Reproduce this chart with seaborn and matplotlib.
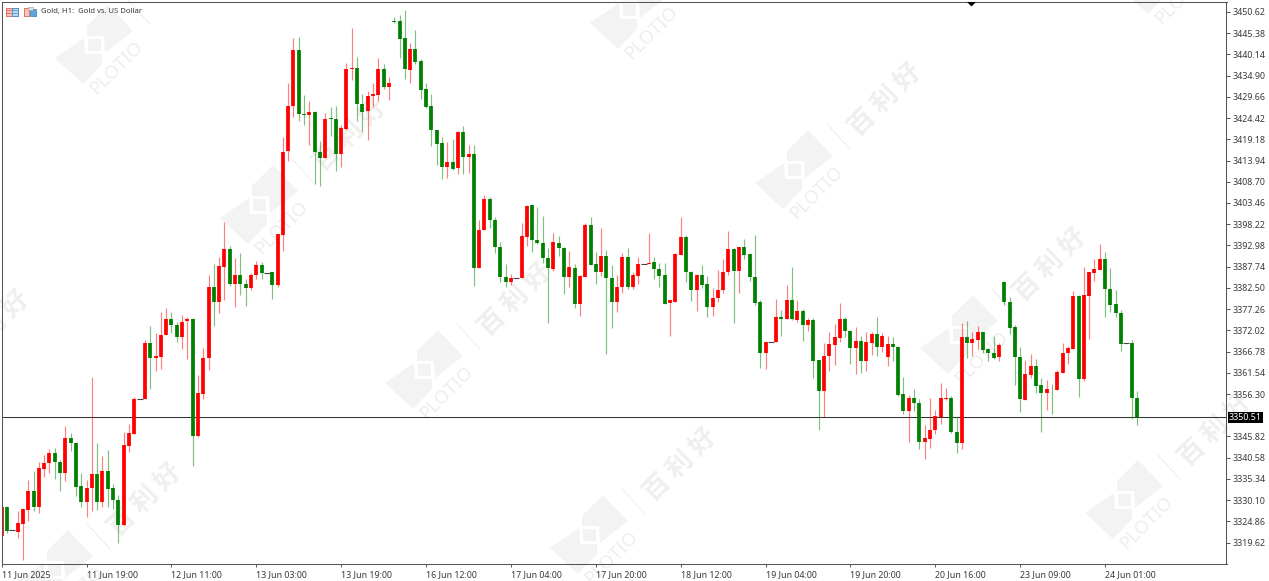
import matplotlib
matplotlib.use("Agg")
import matplotlib.pyplot as plt
import matplotlib.patches as mpatches
import numpy as np
import pandas as pd
import seaborn as sns

opens = [3321.3,3328.5,3322.6,3322.3,3324.3,3327.7,3332.3,3328.4,3337.9,3339.2,
         3341.7,3339.5,3336.9,3345.4,3344.3,3333.7,3329.6,3333.0,3336.6,3329.6,
         3337.3,3333.0,3330.1,3323.9,3343.5,3346.5,3355.0,3355.0,3368.9,3365.3,
         3365.5,3370.9,3374.7,3373.3,3370.3,3374.3,3374.8,3345.9,3356.4,3365.3,
         3382.6,3379.0,3387.7,3392.0,3383.5,3385.6,3383.5,3382.4,3385.6,3388.1,
         3386.2,3386.3,3383.2,3395.6,3416.4,3427.4,3441.2,3425.4,3425.2,3426.0,
         3416.1,3414.6,3424.4,3424.3,3415.6,3421.7,3436.6,3436.7,3427.8,3426.2,
         3429.9,3430.2,3436.6,3432.2,3448.4,3448.3,3444.1,3436.4,3441.5,3438.4,
         3431.5,3427.4,3421.5,3418.3,3412.4,3413.7,3412.0,3421.0,3414.9,3415.5,
         3387.3,3396.8,3404.4,3399.3,3392.7,3385.3,3383.9,3384.9,3384.9,3395.1,
         3403.0,3394.2,3393.5,3389.9,3387.2,3393.7,3392.4,3385.1,3387.5,3378.6,
         3385.3,3398.0,3388.4,3386.4,3390.4,3385.0,3379.1,3382.6,3390.1,3382.6,
         3385.5,3388.4,3388.3,3388.9,3387.1,3385.6,3378.7,3379.1,3390.7,3395.1,
         3386.5,3382.1,3385.8,3383.5,3377.9,3379.9,3381.9,3386.3,3392.1,3386.6,
         3392.7,3390.9,3385.3,3379.1,3366.5,3369.1,3369.1,3375.2,3374.7,3379.4,
         3374.5,3376.7,3373.3,3374.6,3364.6,3357.1,3365.7,3368.5,3370.1,3374.8,
         3371.9,3367.7,3369.5,3364.4,3368.9,3371.1,3368.0,3365.4,3368.7,3368.0,
         3356.3,3352.2,3355.3,3354.2,3344.4,3345.2,3347.3,3350.7,3355.0,3355.3,
         3346.9,3344.2,3370.3,3369.0,3369.6,3371.5,3367.3,3366.4,3365.4,3384.0,
         3379.1,3372.8,3365.5,3354.8,3361.1,3363.2,3358.4,3356.6,3357.6,3357.4,
         3361.5,3366.3,3367.5,3380.6,3360.1,3380.6,3386.1,3387.0,3389.6,3382.3,
         3378.4,3376.3,3368.8,3368.8,3355.3]
highs = [3328.6,3328.6,3322.6,3327.4,3328.1,3335.0,3337.4,3339.4,3341.3,3342.7,
         3342.9,3339.9,3348.4,3346.6,3344.5,3336.7,3335.1,3360.6,3344.3,3341.1,
         3342.5,3334.1,3331.3,3347.0,3349.0,3355.5,3355.0,3369.6,3373.2,3371.3,
         3376.6,3377.5,3376.5,3374.2,3375.8,3375.4,3375.0,3361.1,3367.7,3385.7,
         3388.3,3390.2,3398.7,3392.8,3390.0,3391.2,3384.6,3386.1,3389.2,3389.0,
         3386.2,3386.5,3395.8,3419.8,3433.2,3444.1,3444.4,3430.1,3428.6,3426.2,
         3418.8,3425.8,3427.2,3427.5,3422.7,3438.1,3446.6,3439.6,3430.4,3431.0,
         3433.2,3439.3,3437.9,3434.6,3449.5,3450.0,3451.1,3442.9,3446.2,3438.9,
         3433.0,3430.3,3421.6,3419.7,3418.4,3419.3,3421.3,3422.5,3417.7,3417.9,
         3399.3,3405.4,3404.9,3400.1,3393.9,3388.4,3385.9,3384.9,3398.4,3403.0,
         3403.1,3402.5,3400.3,3392.4,3396.1,3395.3,3392.6,3391.7,3388.4,3385.7,
         3398.6,3399.9,3391.3,3397.2,3391.9,3388.2,3385.7,3391.0,3392.3,3386.3,
         3390.2,3388.4,3396.0,3390.2,3388.6,3388.6,3379.5,3391.2,3399.9,3395.6,
         3386.7,3385.9,3388.2,3385.4,3382.4,3386.9,3389.6,3396.5,3392.3,3392.7,
         3394.5,3391.0,3395.6,3379.4,3369.5,3369.1,3379.7,3377.0,3383.2,3387.7,
         3379.4,3377.2,3375.0,3375.0,3364.6,3369.0,3371.5,3373.5,3378.7,3375.2,
         3372.1,3372.9,3370.7,3371.7,3371.7,3375.2,3371.3,3370.5,3370.3,3368.2,
         3360.4,3356.1,3357.5,3355.0,3348.6,3355.2,3352.3,3359.1,3357.9,3355.8,
         3350.5,3373.8,3374.4,3371.5,3373.2,3371.7,3367.7,3370.5,3369.0,3384.3,
         3380.3,3373.3,3368.0,3364.7,3366.1,3364.9,3360.3,3359.8,3358.7,3362.2,
         3369.0,3368.2,3381.8,3380.8,3387.6,3386.5,3389.6,3393.3,3391.3,3387.5,
         3382.0,3377.0,3368.8,3369.6,3357.1]
lows = [3321.3,3322.1,3322.6,3320.7,3315.3,3325.0,3327.4,3327.0,3335.9,3336.7,
        3335.2,3332.4,3334.9,3342.3,3331.1,3328.4,3326.0,3327.3,3327.7,3328.4,
        3328.4,3328.0,3319.4,3323.7,3342.1,3346.5,3355.0,3355.0,3357.5,3362.0,
        3362.4,3370.9,3371.4,3369.2,3367.5,3365.0,3338.5,3345.8,3355.1,3362.2,
        3373.1,3376.2,3379.5,3382.9,3377.7,3380.7,3378.0,3382.0,3384.6,3384.6,
        3386.2,3379.7,3382.8,3391.7,3413.9,3424.8,3423.7,3422.7,3417.9,3408.2,
        3407.7,3414.5,3420.0,3411.4,3412.4,3421.5,3433.8,3423.7,3420.9,3419.0,
        3427.2,3428.6,3431.5,3428.9,3447.8,3439.3,3434.1,3433.0,3437.7,3429.1,
        3426.8,3417.6,3412.8,3409.3,3409.6,3411.6,3410.5,3410.6,3410.9,3383.0,
        3387.3,3396.8,3397.4,3391.0,3383.9,3382.6,3383.1,3384.9,3384.9,3392.9,
        3391.4,3393.3,3388.6,3373.9,3386.7,3390.4,3380.9,3382.8,3377.6,3375.6,
        3385.1,3388.1,3383.4,3385.5,3366.1,3372.7,3376.5,3381.2,3382.3,3382.3,
        3383.4,3388.4,3388.3,3384.8,3382.6,3378.4,3370.5,3379.1,3390.5,3384.0,
        3379.3,3376.9,3382.4,3375.3,3375.6,3378.9,3381.2,3385.7,3373.8,3381.2,
        3389.7,3384.2,3378.3,3362.8,3362.4,3369.1,3369.1,3370.5,3374.7,3374.6,
        3374.0,3369.5,3371.9,3360.2,3347.3,3350.5,3362.0,3363.5,3369.1,3370.3,
        3363.6,3361.3,3361.6,3362.0,3365.9,3365.8,3366.6,3363.3,3364.5,3355.9,
        3351.4,3344.5,3352.2,3342.6,3340.2,3343.0,3346.5,3348.9,3354.8,3346.6,
        3341.8,3342.8,3365.1,3365.8,3367.4,3366.5,3364.5,3364.9,3364.5,3378.3,
        3371.1,3358.5,3351.8,3354.7,3360.2,3356.6,3346.8,3352.4,3351.4,3357.3,
        3361.4,3363.7,3367.3,3355.6,3359.6,3369.9,3384.3,3386.8,3375.4,3376.6,
        3375.3,3367.0,3368.8,3350.1,3348.7]
closes = [3328.5,3322.5,3322.6,3324.4,3327.8,3332.3,3328.4,3338.1,3339.3,3341.7,
          3339.5,3336.9,3345.4,3344.3,3333.4,3329.6,3333.0,3336.6,3329.6,3337.3,
          3332.9,3330.1,3324.0,3343.6,3346.7,3355.1,3355.0,3368.9,3365.3,3365.6,
          3370.9,3374.7,3373.3,3370.3,3374.2,3374.7,3345.9,3356.5,3365.3,3382.6,
          3379.1,3388.0,3392.0,3383.5,3385.6,3383.5,3382.4,3385.8,3388.1,3386.1,
          3386.2,3383.2,3395.8,3416.1,3427.5,3441.2,3425.4,3425.2,3426.0,3416.1,
          3414.6,3424.3,3424.2,3415.6,3422.1,3436.6,3436.9,3427.8,3426.0,3429.9,
          3430.4,3436.6,3432.2,3433.2,3448.2,3443.9,3436.6,3441.5,3438.2,3431.4,
          3427.2,3421.4,3418.1,3412.4,3413.7,3411.9,3421.0,3414.9,3415.6,3387.3,
          3396.9,3404.4,3399.3,3392.5,3385.1,3383.9,3385.0,3384.9,3395.3,3402.7,
          3394.2,3393.5,3389.8,3387.5,3393.9,3392.4,3385.3,3387.6,3378.6,3385.4,
          3398.0,3388.2,3386.4,3390.4,3384.9,3379.1,3382.6,3390.1,3382.6,3385.6,
          3388.4,3388.4,3388.7,3387.1,3385.4,3378.6,3379.4,3390.9,3395.1,3386.5,
          3382.1,3385.8,3383.3,3377.9,3380.1,3382.0,3386.4,3392.1,3386.6,3392.7,
          3390.7,3385.3,3378.7,3366.5,3369.1,3369.1,3375.2,3374.8,3379.4,3374.7,
          3376.7,3373.4,3374.6,3364.4,3357.1,3365.8,3368.7,3370.3,3374.8,3371.8,
          3367.7,3369.5,3364.4,3369.1,3371.1,3368.0,3370.5,3368.7,3367.8,3356.1,
          3352.1,3355.3,3354.0,3344.4,3345.4,3347.4,3350.9,3355.2,3355.3,3346.8,
          3344.1,3370.3,3369.0,3369.8,3371.5,3367.2,3366.3,3365.1,3368.3,3378.9,
          3372.6,3365.4,3355.1,3361.2,3363.2,3358.3,3356.5,3357.6,3357.5,3361.7,
          3366.5,3367.7,3380.6,3360.1,3380.7,3386.3,3387.1,3389.6,3382.2,3378.2,
          3376.2,3368.7,3368.8,3355.2,3350.5]
date_labels = ["11 Jun 2025","11 Jun 19:00","12 Jun 11:00","13 Jun 03:00","13 Jun 19:00",
               "16 Jun 12:00","17 Jun 04:00","17 Jun 20:00","18 Jun 12:00","19 Jun 04:00",
               "19 Jun 20:00","20 Jun 16:00","23 Jun 09:00","24 Jun 01:00"]
price_ticks = [3450.62,3445.38,3440.14,3434.90,3429.66,3424.42,3419.18,3413.94,3408.70,
               3403.46,3398.22,3392.98,3387.74,3382.50,3377.26,3372.02,3366.78,3361.54,
               3356.30,3345.82,3340.58,3335.34,3330.10,3324.86,3319.62]
last_price = 3350.51

W, H = 1269, 581
sns.set_theme(style="white", rc={"axes.linewidth":0.75,"axes.edgecolor":"#555555"})
plt.rcParams["font.family"] = ["Noto Sans"]
GREY = "#3a3a3a"
RED, GREEN = "#ff0000", "#008000"

df = pd.DataFrame({"bar":np.arange(len(opens)),"open":opens,"high":highs,"low":lows,"close":closes})
df["side"] = np.where(df.close>df.open,"up",np.where(df.close<df.open,"down","flat"))
palette = {"up":RED,"down":GREEN}
moving = df[df.side!="flat"]
wicks = moving.melt(id_vars=["bar","side"],value_vars=["low","high"],value_name="price")
bodies = moving.melt(id_vars=["bar","side"],value_vars=["open","close"],value_name="price")

fig = plt.figure(figsize=(W/100,H/100),dpi=100,facecolor="white")

# watermark layer, in pixels
bg = fig.add_axes([0,0,1,1],zorder=0)
bg.set_xlim(0,W); bg.set_ylim(H,0); bg.set_axis_off()
MARK = "#f3f3f3"
logo_spots = [(94,45),(259,205),(424,370),(589,535),(629,10),(794,170),(959,335),(1124,500),(54,570),(1159,-25)]
word_spots = [(350,135),(515,300),(680,465),(885,100),(1050,265),(1215,430),(145,500),(-7,327)]
lower_piece = [(-10,-7),(-39,13),(-11,39),(8,19),(8,9),(-9,9)]
upper_piece = [(14,-40),(39,-14),(11,8),(10,-9),(-7,-9),(-7,-19)]
for cx,cy in logo_spots:
    bg.add_patch(mpatches.Polygon([(cx+a,cy+b) for a,b in lower_piece],fc=MARK,ec="none"))
    bg.add_patch(mpatches.Polygon([(cx+a,cy+b) for a,b in upper_piece],fc=MARK,ec="none"))
    bg.add_patch(mpatches.Rectangle((cx-6,cy-6),13,12,fc=MARK,ec="none"))
    bg.text(cx+22,cy+23,"PLOTIO",rotation=45,fontsize=13.5,fontweight="bold",color="#eeeeee",
            ha="center",va="center",rotation_mode="anchor")
    bg.plot([cx+33,cx+56],[cy-46,cy-21],color="#f0f0f0",lw=0.9)
for wx,wy in word_spots:
    bg.text(wx,wy,"百 利 好",rotation=45,fontsize=19,fontweight="bold",color="#efefef",ha="center",va="center",
            rotation_mode="anchor",family=["Noto Sans CJK SC","DejaVu Sans"])

# candles
ax = fig.add_axes([1.5/W,1-563.5/H,1225/W,562/H],zorder=1)
ax.patch.set_alpha(0)
sns.lineplot(data=wicks,x="bar",y="price",units="bar",hue="side",palette=palette,estimator=None,sort=False,
             lw=0.85,alpha=0.5,legend=False,solid_capstyle="butt",ax=ax)
sns.lineplot(data=bodies,x="bar",y="price",units="bar",hue="side",palette=palette,estimator=None,sort=False,
             lw=2.7,legend=False,solid_capstyle="butt",ax=ax)
sns.scatterplot(data=df[df.side=="flat"],x="bar",y="open",marker="_",s=16,linewidth=0.8,color="#444444",
                legend=False,ax=ax)
ax.axhline(last_price,color="#333333",lw=0.75,zorder=1.5)
ax.set_xlim(-0.04,230.9)
ax.set_ylim(3314.45,3453.21)
ax.set_xlabel(""); ax.set_ylabel("")
for side in ["left","bottom","right","top"]:
    ax.spines[side].set_visible(True)
ax.yaxis.tick_right()
ax.set_yticks(price_ticks)
ax.set_yticklabels([f"{p:.2f}" for p in price_ticks])
ax.set_xticks(np.arange(len(date_labels))*16)
ax.set_xticklabels(date_labels,ha="left")
ax.tick_params(axis="y",length=3,width=0.7,color="#555555",labelsize=6.4,labelcolor=GREY,pad=1.5,right=True)
ax.tick_params(axis="x",length=2.5,width=0.7,color="#555555",labelsize=6.4,labelcolor=GREY,pad=2.5,bottom=True)

# foreground bits, in pixels
fg = fig.add_axes([0,0,1,1],zorder=2)
fg.set_xlim(0,W); fg.set_ylim(H,0); fg.set_axis_off(); fg.patch.set_alpha(0)
fg.add_patch(mpatches.Rectangle((1228,412),35,11,fc="black",ec="none"))
fg.text(1245.5,417.7,f"{last_price:.2f}",color="white",fontsize=6.4,ha="center",va="center")
fg.add_patch(mpatches.Polygon([(967,2),(976,2),(971.5,6.5)],fc="black",ec="none"))
fg.text(41,11,"Gold, H1:  Gold vs. US Dollar",fontsize=5.5,color=GREY,ha="left",va="center")
# toolbar icons
fg.add_patch(mpatches.Rectangle((5.5,7.5),12,8,fc="#f6c4bd",ec="#e0604f",lw=0.6))
fg.add_patch(mpatches.Rectangle((11.5,7.5),6,8,fc="#bcd8ef",ec="#3f8ccb",lw=0.6))
fg.plot([6,11],[10,10],color="#d9534f",lw=0.5)
fg.plot([6,11],[13,13],color="#d9534f",lw=0.5)
fg.plot([12,17],[10,10],color="#3f8ccb",lw=0.5)
fg.plot([12,17],[13,13],color="#3f8ccb",lw=0.5)
fg.add_patch(mpatches.Rectangle((23.5,7.5),5,8,fc="#f6c4bd",ec="#e0604f",lw=0.6))
fg.add_patch(mpatches.Rectangle((30,8.5),5.5,7,fc="#5aa5de",ec="#3f8ccb",lw=0.6))
fg.add_patch(mpatches.Rectangle((28,6.5),5,3,fc="#dddddd",ec="#999999",lw=0.4))

fig.savefig("out.png",dpi=100)
